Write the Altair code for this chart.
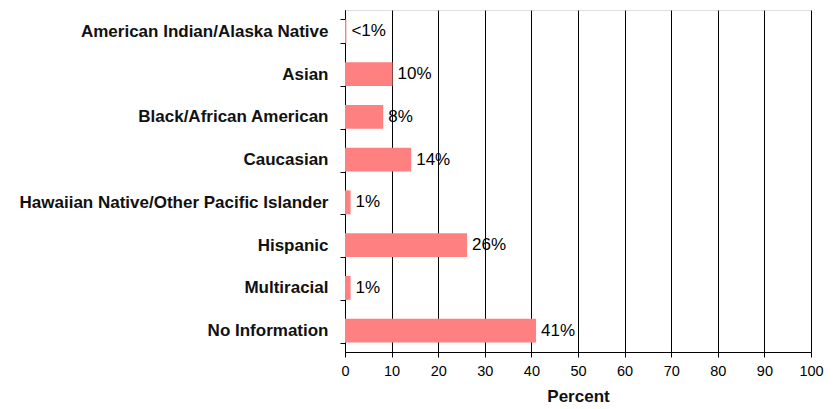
import altair as alt
import pandas as pd

categories = [
    "American Indian/Alaska Native",
    "Asian",
    "Black/African American",
    "Caucasian",
    "Hawaiian Native/Other Pacific Islander",
    "Hispanic",
    "Multiracial",
    "No Information",
]
values = [0.3, 10.2, 8.2, 14.2, 1.2, 26.2, 1.2, 41.0]
labels = ["<1%", "10%", "8%", "14%", "1%", "26%", "1%", "41%"]

df = pd.DataFrame({"cat": categories, "val": values, "lab": labels})

FONT = "Liberation Sans"

y_enc = alt.Y(
    "cat:N",
    sort=categories,
    title=None,
    scale=alt.Scale(paddingInner=0.44, paddingOuter=0.22),
    axis=alt.Axis(
        labelFont=FONT,
        labelFontSize=17,
        labelFontWeight="bold",
        labelColor="#111111",
        labelPadding=12,
        tickBand="extent",
        tickSize=5,
        tickColor="black",
        domainColor="black",
        labelLimit=400,
    ),
)

x_enc = alt.X(
    "val:Q",
    title="Percent",
    scale=alt.Scale(domain=[0, 100], nice=False),
    axis=alt.Axis(
        values=list(range(0, 101, 10)),
        grid=True,
        gridColor="black",
        gridOpacity=1,
        gridWidth=1,
        tickColor="black",
        tickSize=5,
        domainColor="black",
        labelFont=FONT,
        labelFontSize=14.5,
        labelColor="black",
        labelPadding=7,
        labelFlush=False,
        titleFont=FONT,
        titleFontSize=17,
        titleFontWeight="bold",
        titleColor="#111111",
        titlePadding=11,
    ),
)

bars = alt.Chart(df).mark_bar(color="#FF8080").encode(x=x_enc, y=y_enc)

text = alt.Chart(df).mark_text(
    align="left", baseline="middle", dx=5, font=FONT, fontSize=17, color="black"
).encode(x="val:Q", y=alt.Y("cat:N", sort=categories), text="lab:N")

chart = (
    alt.layer(bars, text)
    .properties(
        width=466,
        height=342,
        autosize=alt.AutoSizeParams(type="none"),
        padding={"left": 337, "top": 2, "right": 14, "bottom": 56},
    )
    .configure_view(stroke="#aaaaaa", strokeWidth=1.5)
    .configure(background="white")
)

chart.save("out.html", embed_options={"renderer": "svg", "actions": False})
